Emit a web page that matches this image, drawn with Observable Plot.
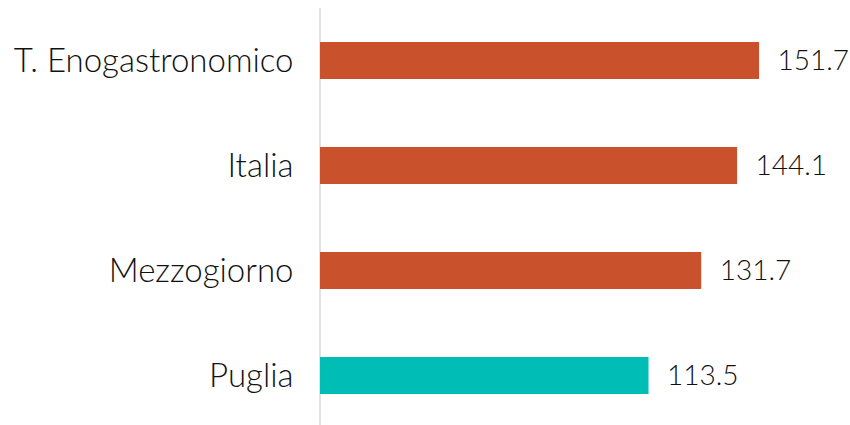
<!DOCTYPE html>
<html>
<head>
<meta charset="utf-8">
<script src="https://cdn.jsdelivr.net/npm/d3@7"></script>
<script src="https://cdn.jsdelivr.net/npm/@observablehq/plot@0.6"></script>
<style>
  html, body { margin: 0; padding: 0; background: #fff; }
  #chart svg { display: block; }
</style>
</head>
<body>
<div id="chart"></div>
<script>
const categories = ["T. Enogastronomico", "Italia", "Mezzogiorno", "Puglia"];
const values = [151.7, 144.1, 131.7, 113.5];
const barColors = ["#C9522D", "#C9522D", "#C9522D", "#00BEB6"];

const data = categories.map((c, i) => ({ category: c, value: values[i], color: barColors[i] }));

const chart = Plot.plot({
  width: 850,
  height: 425,
  marginLeft: 320,
  marginRight: 9,
  marginTop: 8,
  marginBottom: 0,
  style: { fontFamily: "Lato, sans-serif", fontSize: "30px", fontWeight: 300, color: "#111", background: "#fff" },
  x: { domain: [0, 180], axis: null },
  y: { domain: categories, paddingInner: 0.649, paddingOuter: 0.3045, align: 0.525, label: null, tickSize: 0, tickPadding: 27 },
  marks: [
    Plot.ruleX([0], { stroke: "#d9d9d9", strokeWidth: 1.5, dx: -0.5 }),
    Plot.barX(data, { x: "value", y: "category", fill: "color" }),
    Plot.text(data, { x: "value", y: "category", text: d => d.value.toFixed(1), dx: 18, textAnchor: "start", fill: "#111", fontSize: 28, fontWeight: 300 }),
    Plot.axisY({ tickSize: 0, tickPadding: 27, fontSize: 33, fontWeight: 300, fill: "#111", label: null })
  ]
});
document.getElementById("chart").appendChild(chart);
</script>
</body>
</html>
